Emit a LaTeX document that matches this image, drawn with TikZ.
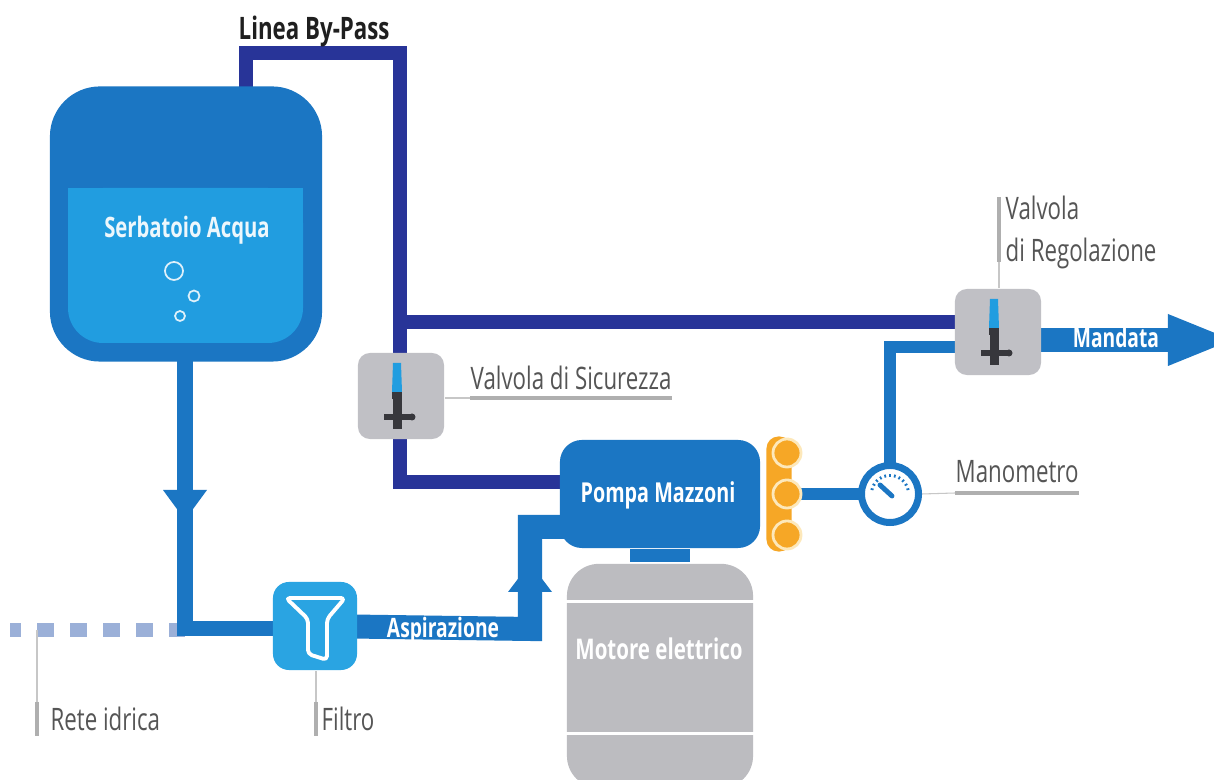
\documentclass[tikz,border=0pt]{standalone}
\usepackage{fontspec}
\setmainfont{Open Sans}[FakeStretch=0.72]
\usetikzlibrary{arrows.meta,positioning,backgrounds,calc}
\definecolor{pipeblue}{RGB}{27,118,195}
\definecolor{waterblue}{RGB}{33,157,224}
\definecolor{filterblue}{RGB}{42,164,226}
\definecolor{bypassnavy}{RGB}{40,52,152}
\definecolor{valvegray}{RGB}{192,192,197}
\definecolor{valvedark}{RGB}{55,55,60}
\definecolor{motorgray}{RGB}{188,188,192}
\definecolor{rotororange}{RGB}{246,167,38}
\definecolor{rotorcream}{RGB}{253,232,186}
\definecolor{labelgray}{RGB}{85,85,85}
\definecolor{leadergray}{RGB}{175,175,175}
\definecolor{netblue}{RGB}{155,176,216}

\begin{document}
\begin{tikzpicture}[x=0.01cm, y=-0.01cm,
  node distance=0pt,
  tank/.style={fill=pipeblue, rounded corners=5mm, minimum width=2.72cm,
    minimum height=2.75cm, inner sep=0pt},
  valve/.style={fill=valvegray, rounded corners=1.2mm, minimum width=0.86cm,
    minimum height=0.86cm, inner sep=0pt},
  pump/.style={fill=pipeblue, rounded corners=2.2mm, minimum width=2cm,
    minimum height=1.08cm, inner sep=0pt},
  motor/.style={fill=motorgray, rounded corners=3.2mm, minimum width=1.86cm,
    minimum height=2.24cm, inner sep=0pt},
  filt/.style={fill=filterblue, rounded corners=1.6mm, minimum width=0.84cm,
    minimum height=0.88cm, inner sep=0pt},
  gauge/.style={circle, draw=pipeblue, line width=0.7mm, fill=white,
    minimum size=0.57cm, inner sep=0pt},
  pipe/.style={draw=pipeblue, line width=1.5mm},
  bypass/.style={draw=bypassnavy, line width=1.4mm},
  tag/.style={font=\fontsize{7.6}{9}\selectfont\bfseries, text=white, inner sep=0pt},
  lbl/.style={font=\fontsize{8.8}{12}\selectfont, text=labelgray, inner sep=0pt,
    anchor=base west},
  lead/.style={draw=leadergray!70, line width=0.3pt},
  leadbar/.style={draw=leadergray, line width=1pt}
]
\useasboundingbox (0,0) rectangle (1214,780);
\node[tank] (tk) at (186,224) {};
\node[valve] (vsic) at (401,396) {};
\node[valve] (vreg) at (998,332) {};
\node[pump] (pmp) at (660,494) {};
\node[fill=pipeblue, minimum width=0.6cm, minimum height=0.13cm, inner sep=0pt,
  below=of pmp] (cpl) {};
\node[motor, below=of cpl] (mot) {};
\node[filt] (flt) at (315,626) {};
\node[gauge] (gau) at (890,494) {};
\node[fill=rotororange, rounded corners=1.2mm, minimum width=0.25cm,
  minimum height=1.15cm, inner sep=0pt] (rot) at (779,494) {};

\fill[waterblue, rounded corners=3.5mm] (68,188) rectangle (303,343);
\fill[waterblue] (68,188) rectangle (303,260);
\draw[white!85!waterblue, line width=0.5pt] (174,271) circle[radius=0.9mm]
  (194,296) circle[radius=0.55mm] (180,316) circle[radius=0.5mm];

\foreach \dy in {-41,0,41}
  \draw[draw=rotorcream, fill=rotororange, line width=0.8pt]
    ($(rot)+(8,\dy)$) circle[radius=1.4mm];

\draw[white, line width=0.9pt] ($(mot.north west)+(0,38)$) -- ($(mot.north east)+(0,38)$);
\draw[white, line width=0.9pt] ($(mot.north west)+(0,170)$) -- ($(mot.north east)+(0,170)$);

\draw[white, line width=1.1pt, line join=round, rounded corners=0.4mm, shift={(flt)}]
  (-29,-28) -- (30,-28) -- (12,-7) -- (12,34) -- (-7,28) -- (-7,-7) -- cycle;

\foreach \v in {vsic,vreg}{
  \begin{scope}[shift={(\v)}]
    \fill[waterblue] (-8,-33) -- (0,-33) -- (1,-4) -- (-9,-4) -- cycle;
    \fill[valvedark] (-9,-4) rectangle (1,3);
    \fill[valvedark] (-8,3) rectangle (1,33);
    \fill[valvedark] (-17,18) rectangle (10,24);
    \fill[valvedark] (11,21) circle[radius=0.35mm];
  \end{scope}
}

\foreach \a in {195,210,...,345}
  \draw[pipeblue, line width=0.5pt] ($(gau)+(\a:17)$) -- ($(gau)+(\a:20)$);
\draw[pipeblue, line width=1.4pt, line cap=round] ($(gau)+(2,2)$) -- ($(gau)+(-10,-9)$);

\node[tag, font=\fontsize{8}{9}\selectfont\bfseries, text=white!92!waterblue,
  anchor=base] (tkl) at (187,238) {Serbatoio Acqua};
\node[tag, font=\fontsize{7.8}{9}\selectfont\bfseries, anchor=base] (pmpl)
  at (658,503) {Pompa Mazzoni};
\node[tag, font=\fontsize{8.1}{9}\selectfont\bfseries, anchor=base] (motl)
  at (659,660) {Motore elettrico};
\node[tag, anchor=base] (mdl) at (1116,348) {Mandata};
\node[tag, anchor=base] (asl) at (443,638) {Aspirazione};
\node[font=\fontsize{8.8}{10}\selectfont\bfseries, text=black!88, inner sep=0pt,
  anchor=base west] (bpll) at (238,40) {Linea By-Pass};

\node[lbl] (vsicl) at (470,390) {Valvola di Sicurezza};
\node[lbl] (vregl) at (1005,220) {Valvola};
\node[lbl] (vregm) at (1005,262) {di Regolazione};
\node[lbl] (gaul) at (955,483) {Manometro};
\node[lbl] (netl) at (50,731) {Rete idrica};
\node[lbl] (fltl) at (321,731) {Filtro};

\draw[leadbar] ([yshift=-0.08cm]vsicl.base west) -- ([yshift=-0.08cm]vsicl.base east);
\draw[lead] ([yshift=-0.08cm]vsicl.base west) -- +(-25,0);
\draw[leadbar] ([yshift=-0.1cm]gaul.base west) -- ([yshift=-0.1cm]gaul.base east);
\draw[lead] ([yshift=-0.1cm]gaul.base west) -- (gau.east);
\coordinate (rg) at (999,262);
\draw[leadbar] (rg) -- +(0,-65);
\draw[lead] (rg) -- (rg |- vreg.north);
\coordinate (nt) at (37,702);
\coordinate (ft) at (316,702);
\draw[leadbar] (nt) -- +(0,34);
\draw[leadbar] (ft) -- +(0,34);

\begin{scope}[on background layer]
  \fill[white] (0,0) rectangle (1214,780);
  \coordinate (bpl) at (246,53);
  \coordinate (bpr) at (400,53);
  \coordinate (bpt) at (400,322);
  \coordinate (bpb) at (400,482);
  \draw[bypass] (tk.center -| bpl) -- (bpl) -- (bpr) -- (bpb) -- (bpb -| pmp.center);
  \draw[bypass] (bpt) -- (bpt -| vreg.center);
  \coordinate (net) at (10,630);
  \coordinate (dn) at (185,629);
  \draw[netblue, line width=1.4mm, dash pattern=on 0.17cm off 0.16cm, dash phase=0.06cm]
    (net) -- (net -| dn);
  \draw[pipe] (tk.center -| dn) -- (dn) -- (flt.center |- dn);
  \coordinate (as1) at (530,629);
  \coordinate (as2) at (530,527);
  \draw[pipe, line width=2.4mm] (flt.center) -- (as1) -- (as2) -- (as2 -| pmp.center);
  \coordinate (dl) at (890,347);
  \draw[pipe, line width=1.2mm] (gau.center) -- (dl) -- (dl -| vreg.center);
  \draw[pipe, line width=1.2mm] (rot.center) -- (gau.center);
  \coordinate (md) at (1236,340);
  \draw[pipeblue, line width=2.4mm, -{Triangle[length=6.8mm, width=4.6mm]}]
    (vreg.center |- md) -- (md);
  \coordinate (dnarr) at (185,505);
  \fill[pipeblue] ($(dnarr)+(-22,-15)$) -- ($(dnarr)+(22,-15)$) -- ($(dnarr)+(0,15)$) -- cycle;
  \coordinate (uparr) at (530,578);
  \fill[pipeblue] ($(uparr)+(-22,14)$) -- ($(uparr)+(22,14)$) -- ($(uparr)+(0,-15)$) -- cycle;
  \draw[lead] (nt) -- (nt |- net);
  \draw[lead] (ft) -- (ft |- flt.south);
\end{scope}
\end{tikzpicture}
\end{document}
